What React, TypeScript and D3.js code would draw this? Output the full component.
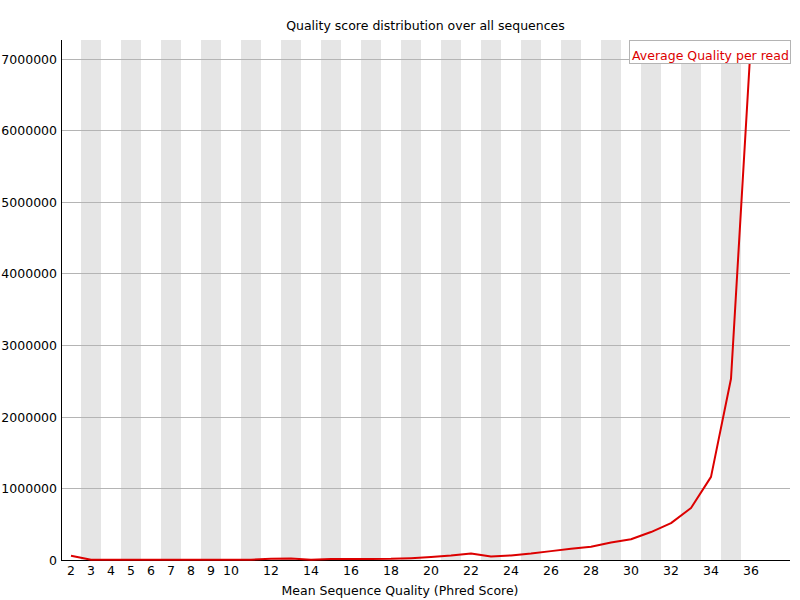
import React, { useEffect, useRef } from "react";
import * as d3 from "d3";

// Mean sequence quality (Phred) categories and read counts
const qualities: number[] = [
  2, 3, 4, 5, 6, 7, 8, 9, 10, 11, 12, 13, 14, 15, 16, 17, 18, 19, 20,
  21, 22, 23, 24, 25, 26, 27, 28, 29, 30, 31, 32, 33, 34, 35, 36,
];
const readCounts: number[] = [
  60000, 3000, 2500, 2500, 2800, 3000, 3200, 3500, 4000, 4500, 19000,
  20000, 5000, 15000, 15000, 14000, 16000, 26000, 42000, 62000, 92000,
  50000, 64000, 90000, 124000, 156000, 186000, 245000, 290000, 390000,
  515000, 725000, 1160000, 2530000, 7260000,
];
const yTicks: number[] = [0, 1000000, 2000000, 3000000, 4000000, 5000000, 6000000, 7000000];

const title = "Quality score distribution over all sequences";
const xTitle = "Mean Sequence Quality (Phred Score)";
const legendLabel = "Average Quality per read";

export default function App() {
  const svgRef = useRef<SVGSVGElement | null>(null);

  useEffect(() => {
    if (!svgRef.current) return;
    const width = 800;
    const height = 600;
    const font = "'DejaVu Sans', sans-serif";
    const fs = 12.5;
    const red = "#dc0000";

    const svg = d3.select(svgRef.current);
    svg.selectAll("*").remove();

    const left = 61;
    const right = width - 10;
    const top = 40;
    const bottom = height - 40;
    const bandW = 20;

    const x = d3
      .scaleBand<number>()
      .domain(qualities)
      .range([left, left + bandW * qualities.length])
      .padding(0);

    const y = d3
      .scaleLinear()
      .domain([0, d3.max(readCounts) || 0])
      .range([bottom, top]);

    // alternating stripes
    svg
      .append("g")
      .selectAll("rect")
      .data(qualities.filter((_, i) => i % 2 === 1))
      .join("rect")
      .attr("x", (d) => x(d) as number)
      .attr("y", top)
      .attr("width", x.bandwidth())
      .attr("height", bottom - top)
      .attr("fill", "#e5e5e5");

    // horizontal grid lines and y labels
    const yg = svg.append("g");
    yg.selectAll("line")
      .data(yTicks)
      .join("line")
      .attr("x1", left)
      .attr("x2", right)
      .attr("y1", (d) => Math.round(y(d)) + 0.5)
      .attr("y2", (d) => Math.round(y(d)) + 0.5)
      .attr("stroke", "#b4b4b4")
      .attr("stroke-width", 1);
    yg.selectAll("text")
      .data(yTicks)
      .join("text")
      .attr("x", 57)
      .attr("y", (d) => y(d) + 5)
      .attr("text-anchor", "end")
      .attr("font-family", font)
      .attr("font-size", fs)
      .attr("fill", "#000")
      .text((d) => String(d));

    // axes
    svg
      .append("line")
      .attr("x1", left + 0.5)
      .attr("x2", left + 0.5)
      .attr("y1", top)
      .attr("y2", bottom)
      .attr("stroke", "#000");
    svg
      .append("line")
      .attr("x1", left)
      .attr("x2", right)
      .attr("y1", bottom + 0.5)
      .attr("y2", bottom + 0.5)
      .attr("stroke", "#000");

    // x labels, skipping ones that would overlap the previous label
    const xg = svg.append("g");
    let lastEnd = 0;
    qualities.forEach((q) => {
      const cx = (x(q) as number) + x.bandwidth() / 2;
      const label = String(q);
      const w = label.length * 10;
      if (cx - w / 2 <= lastEnd) return;
      lastEnd = cx + w / 2;
      xg.append("text")
        .attr("x", cx)
        .attr("y", 575)
        .attr("text-anchor", "middle")
        .attr("font-family", font)
        .attr("font-size", fs)
        .attr("fill", "#000")
        .text(label);
    });

    // the line
    const line = d3
      .line<number>()
      .x((_, i) => (x(qualities[i]) as number) + x.bandwidth() / 2)
      .y((d) => y(d));
    svg
      .append("path")
      .datum(readCounts)
      .attr("d", line)
      .attr("fill", "none")
      .attr("stroke", red)
      .attr("stroke-width", 2)
      .attr("stroke-linejoin", "round");

    // titles
    svg
      .append("text")
      .attr("x", (left + right) / 2)
      .attr("y", 30)
      .attr("text-anchor", "middle")
      .attr("font-family", font)
      .attr("font-size", fs)
      .attr("fill", "#000")
      .text(title);
    svg
      .append("text")
      .attr("x", width / 2)
      .attr("y", 595)
      .attr("text-anchor", "middle")
      .attr("font-family", font)
      .attr("font-size", fs)
      .attr("fill", "#000")
      .text(xTitle);

    // legend
    svg
      .append("rect")
      .attr("x", 629.5)
      .attr("y", 40.5)
      .attr("width", 161)
      .attr("height", 23)
      .attr("fill", "#fff")
      .attr("stroke", "#b4b4b4");
    svg
      .append("text")
      .attr("x", 632)
      .attr("y", 60)
      .attr("font-family", font)
      .attr("font-size", fs)
      .attr("fill", red)
      .text(legendLabel);
  }, []);

  return (
    <svg
      ref={svgRef}
      width={800}
      height={600}
      style={{ position: "absolute", left: 0, top: 0, background: "#fff" }}
    />
  );
}
